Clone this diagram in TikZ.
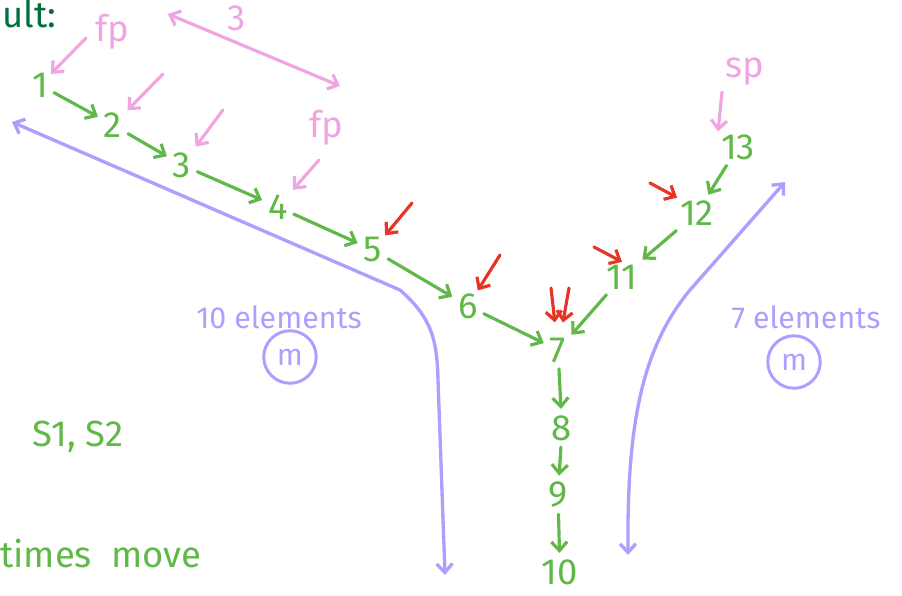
\documentclass[tikz,border=0pt]{standalone}
\usepackage{fontspec}
\setmainfont{Fira Sans}
\usetikzlibrary{arrows.meta}
\definecolor{grn}{RGB}{96,184,72}
\definecolor{dgrn}{RGB}{0,112,60}
\definecolor{pnk}{RGB}{240,165,225}
\definecolor{rd}{RGB}{232,52,36}
\definecolor{prp}{RGB}{172,160,255}
\begin{document}
\begin{tikzpicture}[
        x=0.02cm, y=-0.02cm,
        every node/.style={font=\LARGE},
        num/.style={text=grn, inner sep=1.5pt, font=\huge},
        note/.style={text=pnk, font=\huge},
        garrow/.style={->, draw=grn, line width=1.8pt, line cap=round, shorten <=2pt, shorten >=2pt},
        parrow/.style={->, draw=pnk, line width=1.8pt, line cap=round},
        rarrow/.style={->, draw=rd, line width=1.8pt, line cap=round},
        sweep/.style={<->, draw=prp, line width=1.9pt, line cap=round},
        ring/.style={circle, draw=prp, line width=1.7pt, text=prp, minimum size=1.05cm, inner sep=0pt},
        >={Straight Barb[length=5pt,width=9pt]}
    ]
        \useasboundingbox (0,0) rectangle (902,595);

        %--------------------------------
        % titles and side notes
        %--------------------------------
        \node[text=dgrn, anchor=north west, inner sep=0pt, font=\huge] (ttl) at (2,0) {ult:};
        \node[text=grn, font=\huge] (lists) at (78,437) {S1, S2};
        \node[text=grn, anchor=west, inner sep=0pt, font=\huge] (moves) at (0,553) {times \ move};

        %--------------------------------
        % the nodes
        %--------------------------------
        \foreach \v/\x/\y in {1/40/85,2/113/125,3/182/165,4/278/207,5/373/250,
                             6/468/306,7/558/350,8/562/428,9/558/495,10/560/572,
                             11/622/277,12/697/213,13/738/147}
            \node[num] (n\v) at (\x,\y) {\v};

        \foreach \a/\b in {1/2,2/3,3/4,4/5,5/6,6/7,7/8,8/9,9/10,13/12,12/11,11/7}
            \draw[garrow] (n\a) -- (n\b);

        %--------------------------------
        % pointers (pink)
        %--------------------------------
        \node[note] (fp1) at (112,32) {fp};
        \node[note] (fp2) at (326,128) {fp};
        \node[note] (sp) at (745,72) {sp};
        \node[note] (three) at (237,18) {3};

        \coordinate (pa) at (86,38);
        \coordinate (pb) at (163,74);
        \coordinate (pc) at (223,110);
        \coordinate (pd) at (319,160);
        \coordinate (pe) at (722,92);
        \coordinate (da) at (168,14);
        \coordinate (db) at (340,86);

        \draw[parrow] (pa) -- (n1);
        \draw[parrow, shorten >=2pt] (pb) -- (n2);
        \draw[parrow, shorten >=2pt] (pc) -- (n3);
        \draw[parrow, shorten >=2pt] (pd) -- (n4);
        \draw[parrow] (pe) -- (n13.north west);
        \draw[parrow, <->] (da) -- (db);

        %--------------------------------
        % moves (red)
        %--------------------------------
        \coordinate (ra) at (412,203);
        \coordinate (rb) at (500,255);
        \coordinate (rc) at (551,288);
        \coordinate (rd) at (569,288);
        \coordinate (re) at (594,247);
        \coordinate (rf) at (650,183);

        \draw[rarrow] (ra) -- (n5);
        \draw[rarrow] (rb) -- (n6);
        \draw[rarrow, shorten >=7pt] (rc) -- (n7);
        \draw[rarrow, shorten >=7pt] (rd) -- (n7);
        \draw[rarrow] (re) -- (n11.north);
        \draw[rarrow] (rf) -- (n12.north west);

        %--------------------------------
        % the two lists (purple)
        %--------------------------------
        \coordinate (la) at (12,122);
        \coordinate (lb) at (400,290);
        \coordinate (lc) at (445,575);
        \coordinate (ka) at (628,555);
        \coordinate (kb) at (690,290);
        \coordinate (kc) at (785,182);

        \draw[sweep] (la) -- (lb) .. controls (432,318) and (437,340) .. (438,380) -- (lc);
        \draw[sweep] (ka) .. controls (627,430) and (640,350) .. (kb) -- (kc);

        \node[text=prp] (ten) at (279,317) {10 elements};
        \node[ring] (m1) at (290,357) {m};
        \node[text=prp] (seven) at (806,317) {7 elements};
        \node[ring] (m2) at (794,362) {m};

    \end{tikzpicture}
\end{document}
